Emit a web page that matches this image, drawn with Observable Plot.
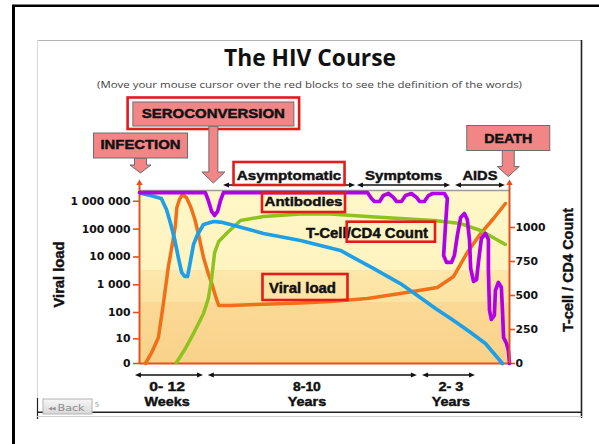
<!DOCTYPE html>
<html>
<head>
<meta charset="utf-8">
<script src="https://cdn.jsdelivr.net/npm/d3@7"></script>
<script src="https://cdn.jsdelivr.net/npm/@observablehq/plot@0.6"></script>
<style>
html, body { margin: 0; padding: 0; background: #fff; }
#page { position: relative; width: 599px; height: 444px; overflow: hidden; background: #fff; }
#page svg { position: absolute; }
</style>
</head>
<body>
<div id="page"></div>
<script>
// ---------------- data ----------------
// x = position along the course of infection (0 = infection, 100 = death)
const viralX    = [1.6, 3.2, 5.1, 6.5, 7.8, 8.9, 9.7, 10.1, 10.8, 11.6, 12.7, 13.8, 14.9, 15.9, 17.3, 18.6, 19.7, 20.5, 21.4, 24.6, 33.5, 43.5, 51.6, 61.6, 70.5, 80.5, 84.9, 88.6, 92.2, 95.7, 98.9];
const viralLoad = [0, 2, 11, 230, 4500, 30000, 135000, 600000, 1150000, 1750000, 1350000, 650000, 240000, 69000, 9600, 2500, 950, 410, 180, 180, 200, 220, 250, 320, 490, 800, 2000, 14500, 69000, 240000, 830000];

const cd4X     = [0.5, 3.0, 5.9, 7.3, 8.4, 9.5, 10.5, 11.4, 12.2, 13.0, 13.8, 14.6, 15.7, 17.3, 20.0, 22.4, 24.6, 33.5, 43.5, 54.3, 63.2, 70.5, 75.1, 80.0, 84.9, 89.5, 93.5, 98.1];
const cd4Count = [1250, 1235, 1213, 1132, 1029, 912, 779, 669, 640, 640, 757, 875, 949, 1022, 1044, 1037, 1022, 956, 904, 831, 699, 588, 500, 404, 316, 228, 147, 0];

const antibodyX     = [10.0, 12.4, 14.6, 17.3, 18.6, 19.5, 20.3, 21.4, 23.8, 27.3, 33.5, 43.5, 51.6, 61.6, 70.5, 79.5, 86.8, 92.2, 98.9];
const antibodyLevel = [7, 110, 221, 368, 478, 625, 816, 897, 963, 1051, 1081, 1099, 1099, 1081, 1066, 1051, 1029, 978, 875];

const healthX     = [0, 17.8, 18.6, 19.5, 20.3, 21.1, 21.9, 22.7, 61.6, 62.7, 63.5, 64.9, 65.9, 67.3, 68.6, 69.5, 70.8, 71.9, 73.5, 74.9, 75.7, 77.0, 78.1, 79.2, 82.4, 83.2, 82.7, 82.2, 83.0, 84.3, 85.1, 85.9, 86.8, 87.8, 88.6, 89.2, 89.5, 90.3, 91.1, 91.6, 92.4, 93.5, 94.3, 94.3, 94.6, 95.1, 95.9, 96.2, 97.0, 97.8, 98.1, 98.4, 99.2, 99.7, 100];
const healthLevel = [1257, 1257, 1199, 1118, 1088, 1118, 1199, 1257, 1257, 1213, 1191, 1191, 1235, 1250, 1221, 1191, 1191, 1235, 1250, 1221, 1191, 1191, 1235, 1250, 1250, 1213, 1015, 794, 743, 743, 794, 941, 1074, 1103, 1059, 904, 699, 603, 618, 743, 919, 956, 912, 684, 390, 324, 353, 537, 596, 559, 390, 191, 147, 96, 0];

const viralTicks      = [0, 10, 100, 1000, 10000, 100000, 1000000];
const viralTickLabels = ["0", "10", "100", "1 000", "10 000", "100 000", "1 000 000"];
const cd4Ticks        = [0, 250, 500, 750, 1000];
const cd4TickLabels   = ["0", "250", "500", "750", "1000"];
const viralMax = 2430000;   // top of the left (viral load) scale
const cd4Max   = 1272;      // top of the right (T-cell) scale

const events = ["INFECTION", "SEROCONVERSION", "DEATH"];
const eventX = [0.4, 20.1, 99.8];

const phases     = ["Asymptomatic", "Symptoms", "AIDS"];
const phaseStart = [22.7, 58.9, 85.4];
const phaseEnd   = [58.4, 84.1, 98.9];

const durations      = ["0- 12", "8-10", "2- 3"];
const durationUnits  = ["Weeks", "Years", "Years"];
const durationStart  = [-1.1, 18.6, 76.5];
const durationEnd    = [17.3, 75.1, 90.8];
const durationLabelX = [7.6, 45.4, 84.3];

const seriesLabels = ["Antibodies", "T-Cell/CD4 Count", "Viral load"];

const titleText    = "The HIV Course";
const subtitleText = "(Move your mouse cursor over the red blocks to see the definition of the words)";
const yLeftTitle   = "Viral load";
const yRightTitle  = "T-cell / CD4 Count";

// ---------------- styles / layout ----------------
const W = 599, H = 330, SVG_TOP = 92;
const margins = {marginLeft: 139, marginRight: 90, marginTop: 98, marginBottom: 59};
const axisColor = "#E2521E";
const colOrange = "#F0701A", colBlue = "#1E9FE6", colGreen = "#8DC21F", colPurple = "#B100E8";
const redBox = "#E31B1B", pink = "#F28686";
const tickFont = {fontFamily: "DejaVu Sans", fontSize: 10.8, fontWeight: "bold", fill: "#111"};

const viralData = viralX.map((x, i) => ({x, v: viralLoad[i]}));
const cd4Data = cd4X.map((x, i) => ({x, v: cd4Count[i]}));
const abData = antibodyX.map((x, i) => ({x, v: antibodyLevel[i]}));
const healthData = healthX.map((x, i) => ({x, v: healthLevel[i]}));

const page = document.getElementById("page");

// ---- left plot: viral load (symlog) ----
const left = Plot.plot({
  width: W, height: H, ...margins,
  style: {background: "transparent", overflow: "visible"},
  x: {domain: [0, 100], axis: null},
  y: {type: "symlog", constant: 1.5, domain: [0, viralMax], axis: null},
  marks: [
    Plot.frame({fill: "url(#hivBg)", stroke: "none"}),
    Plot.ruleY([viralMax], {stroke: "#9b9b9b", strokeWidth: 1.3}),
    Plot.ruleY([0], {stroke: axisColor, strokeWidth: 2}),
    Plot.axisY(viralTicks, {anchor: "left", tickSize: 6, tickPadding: 3,
      tickFormat: d => viralTickLabels[viralTicks.indexOf(d)],
      stroke: axisColor, strokeWidth: 1.6, ...tickFont, label: null}),
    Plot.line(viralData, {x: "x", y: "v", stroke: colOrange, strokeWidth: 3.5, strokeLinejoin: "round"}),
    Plot.ruleX([0], {stroke: axisColor, strokeWidth: 2, insetTop: -8}),
    Plot.dot([0], {x: d => d, frameAnchor: "top", dy: -7.3, symbol: "triangle", r: 2.4, fill: axisColor, stroke: "none"})
  ]
});
left.style.left = "0px"; left.style.top = SVG_TOP + "px";
// background bands of the plot area
const defs = d3.select(left).insert("defs", ":first-child");
const grad = defs.append("linearGradient").attr("id", "hivBg").attr("x1", 0).attr("y1", 0).attr("x2", 0).attr("y2", 1);
[[0, "#FFF7C8"], [0.462, "#FFF4C0"], [0.462, "#FDE7AA"], [0.647, "#FCE3A2"], [0.647, "#FBD995"], [1, "#F9D28A"]]
  .forEach(([o, c]) => grad.append("stop").attr("offset", o).attr("stop-color", c));
page.appendChild(left);

// ---- right plot: T-cell count & other curves (linear) ----
const right = Plot.plot({
  width: W, height: H, ...margins,
  style: {background: "transparent", overflow: "visible"},
  x: {domain: [0, 100], axis: null},
  y: {domain: [0, cd4Max], axis: null},
  marks: [
    Plot.axisY(cd4Ticks, {anchor: "right", tickSize: 5, tickPadding: 1,
      tickFormat: d => cd4TickLabels[cd4Ticks.indexOf(d)],
      stroke: axisColor, strokeWidth: 1.6, ...tickFont, label: null}),
    Plot.line(abData, {x: "x", y: "v", stroke: colGreen, strokeWidth: 3.5, strokeLinejoin: "round"}),
    Plot.line(cd4Data, {x: "x", y: "v", stroke: colBlue, strokeWidth: 3.7, strokeLinejoin: "round"}),
    Plot.line(healthData, {x: "x", y: "v", stroke: colPurple, strokeWidth: 3.7, strokeLinejoin: "round"}),
    Plot.ruleX([100], {stroke: axisColor, strokeWidth: 2, insetTop: -8}),
    Plot.dot([100], {x: d => d, frameAnchor: "top", dy: -7.3, symbol: "triangle", r: 2.4, fill: axisColor, stroke: "none"})
  ]
});
right.style.left = "0px"; right.style.top = SVG_TOP + "px";
page.appendChild(right);

const sx = v => left.scale("x").apply(v);

// ---------------- overlay: slide frame, titles, annotation boxes ----------------
const ov = d3.create("svg").attr("width", 599).attr("height", 444)
  .style("left", "0px").style("top", "0px");
function line(x1, y1, x2, y2, stroke, w) {
  ov.append("line").attr("x1", x1).attr("y1", y1).attr("x2", x2).attr("y2", y2)
    .attr("stroke", stroke).attr("stroke-width", w);
}
function text(str, x, y, o = {}) {
  const t = ov.append("text").attr("x", x).attr("y", y).text(str)
    .attr("text-anchor", o.anchor || "middle")
    .attr("font-family", o.family || "Liberation Sans, Arial, sans-serif")
    .attr("font-weight", o.weight || "bold")
    .attr("font-size", o.size || 13)
    .attr("fill", o.fill || "#111");
  if (o.heavy) t.attr("stroke", o.fill || "#111").attr("stroke-width", o.heavy);
  if (o.len) t.attr("textLength", o.len).attr("lengthAdjust", "spacingAndGlyphs");
  if (o.transform) t.attr("transform", o.transform);
  return t;
}
function rect(x, y, w, h, fill, stroke, sw) {
  ov.append("rect").attr("x", x).attr("y", y).attr("width", w).attr("height", h)
    .attr("fill", fill).attr("stroke", stroke).attr("stroke-width", sw);
}
function downArrow(cx, yTop, yNeck, yTip, stemHW, headHW) {
  ov.append("path")
    .attr("d", `M${cx - stemHW},${yTop}L${cx + stemHW},${yTop}L${cx + stemHW},${yNeck}L${cx + headHW},${yNeck}L${cx},${yTip}L${cx - headHW},${yNeck}L${cx - stemHW},${yNeck}Z`)
    .attr("fill", pink).attr("stroke", "#6d6d6d").attr("stroke-width", 1);
}
function dblArrow(x1, x2, y) {
  line(x1 + 4, y, x2 - 4, y, "#111", 1.3);
  ov.append("path").attr("d", `M${x1},${y}L${x1 + 6},${y - 2.5}L${x1 + 6},${y + 2.5}Z`).attr("fill", "#111");
  ov.append("path").attr("d", `M${x2},${y}L${x2 - 6},${y - 2.5}L${x2 - 6},${y + 2.5}Z`).attr("fill", "#111");
}

// page & slide frame
line(12, 5.8, 599, 5.8, "#000", 2.5);
line(13.5, 5, 13.5, 444, "#000", 3);
line(37, 40.5, 582, 40.5, "#b5b5b5", 1);
line(37.5, 40, 37.5, 398, "#d8d8d8", 1);
line(37.5, 398, 37.5, 419, "#222", 1.2);
line(581.5, 40, 581.5, 418, "#222", 1.6);
line(37, 412.3, 582, 412.3, "#222", 1.5);
line(37, 416.5, 582, 416.5, "#d0d0d0", 1);

// title and subtitle
text(titleText, 310, 66, {family: "Open Sans, sans-serif", size: 22.5, len: 172, fill: "#111"});
text(subtitleText, 309.5, 88, {family: "Open Sans, sans-serif", weight: "normal", size: 9.3, len: 425, fill: "#444"});

// axis titles
text(yLeftTitle, 0, 0, {size: 14.5, len: 66, heavy: 0.4, transform: "translate(64,274.5) rotate(-90)"});
text(yRightTitle, 0, 0, {size: 14.5, len: 124, heavy: 0.4, transform: "translate(572.5,270) rotate(-90)"});

// event boxes with block arrows
const eventLayout = [
  {w: 94, top: 133, bottom: 158, neck: 165, tip: 173, stem: 6, head: 10.5, base: 148.5, len: 80},
  {w: 161, top: 102, bottom: 126, neck: 172, tip: 183, stem: 4.5, head: 11.5, base: 117.5, len: 143, frame: {w: 171.5, top: 97.5, bottom: 129}},
  {w: 83, top: 125.5, bottom: 150.5, neck: 166.5, tip: 176.5, stem: 6, head: 11, base: 142.5, len: 48}
];
events.forEach((name, i) => {
  const L = eventLayout[i], cx = sx(eventX[i]);
  if (L.frame) rect(cx - L.frame.w / 2, L.frame.top, L.frame.w, L.frame.bottom - L.frame.top, "#fff", redBox, 2.6);
  downArrow(cx, L.bottom, L.neck, L.tip, L.stem, L.head);
  rect(cx - L.w / 2, L.top, L.w, L.bottom - L.top, pink, "#6d6d6d", 1);
  text(name, cx, L.base, {size: 12.5, len: L.len, heavy: 0.45});
});

// phases along the top
const phaseLen = [104.5, 77, 35];
phases.forEach((name, i) => {
  const x1 = sx(phaseStart[i]), x2 = sx(phaseEnd[i]), cx = (x1 + x2) / 2;
  dblArrow(x1, x2, 185);
  if (i === 0) rect(cx - 55.5, 162, 111, 23, "#fff", redBox, 2.6);
  text(name, cx, 179.5, {size: 13.5, len: phaseLen[i], heavy: 0.45});
});

// durations along the bottom
const durLen = [35.7, 27.7, 25], unitLen = [45, 38.3, 38.3];
durations.forEach((name, i) => {
  dblArrow(sx(durationStart[i]), sx(durationEnd[i]), 375);
  const cx = sx(durationLabelX[i]);
  text(name, cx, 390.5, {size: 13, len: durLen[i], heavy: 0.45});
  text(durationUnits[i], cx, 406, {size: 13, len: unitLen[i], heavy: 0.45});
});

// series labels
rect(262, 193, 83, 19, "none", redBox, 2.6);
text(seriesLabels[0], 303.5, 206.3, {size: 13.5, len: 78, heavy: 0.45});
text(seriesLabels[1], 367, 237.5, {size: 14, len: 122, heavy: 0.45});
rect(346.7, 221.7, 88.3, 20, "none", redBox, 2.6);
rect(262.5, 274, 85, 26, "none", redBox, 2.6);
text(seriesLabels[2], 302.5, 292.5, {size: 14, len: 67, heavy: 0.45});

// back button
const bg = ov.append("defs").append("linearGradient").attr("id", "btn").attr("x1", 0).attr("y1", 0).attr("x2", 0).attr("y2", 1);
bg.append("stop").attr("offset", 0).attr("stop-color", "#f7f7f7");
bg.append("stop").attr("offset", 1).attr("stop-color", "#d9d9d9");
rect(43, 399, 49, 15, "url(#btn)", "#b3b3b3", 1);
text("◀◀", 52, 409.5, {family: "DejaVu Sans", weight: "normal", size: 5, fill: "#8a8a8a", len: 7});
text("Back", 71, 410.5, {family: "DejaVu Sans", weight: "normal", size: 9, fill: "#8a8a8a", len: 27});
text("5", 97, 407, {family: "DejaVu Sans", weight: "normal", size: 7, fill: "#9a9a9a"});

page.appendChild(ov.node());
</script>
</body>
</html>
